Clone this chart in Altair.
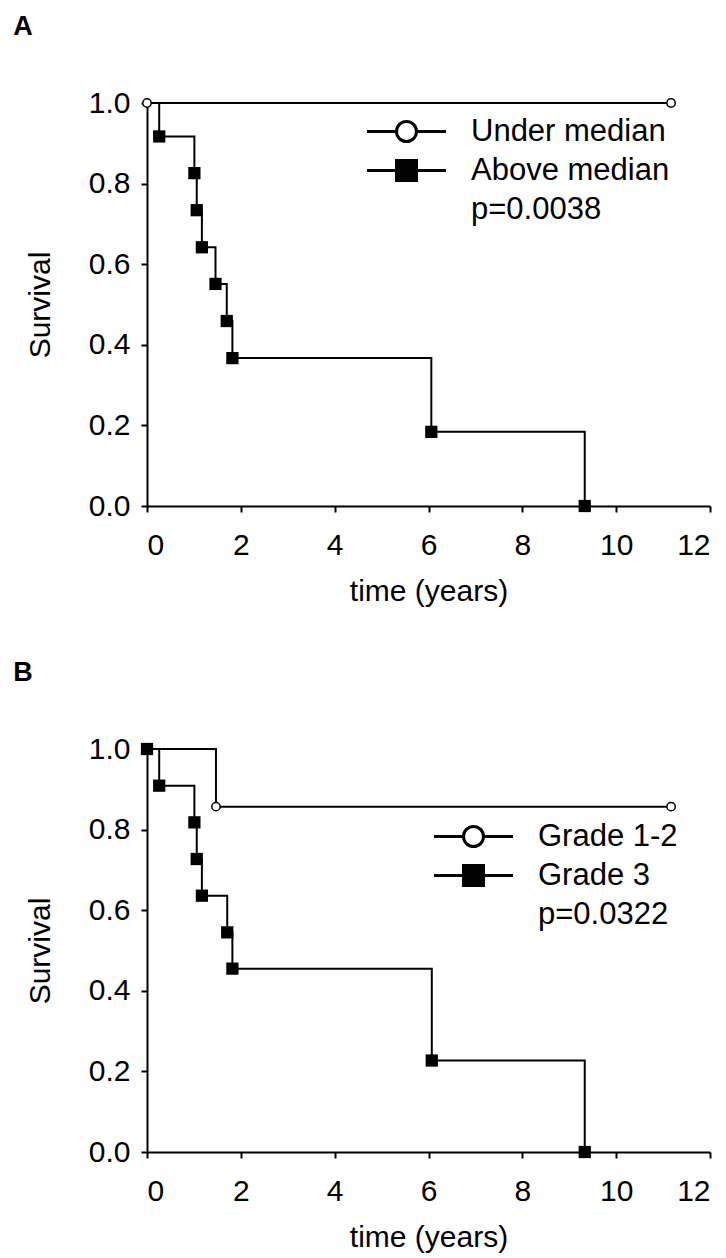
import altair as alt
import pandas as pd

FONT = "Liberation Sans"

# ---------------- data ----------------
# Panel A
a_under_t = [0.0, 11.17]
a_under_s = [1.0, 1.0]
a_under_mark = [True, True]
a_above_t = [0.0, 0.26, 1.01, 1.06, 1.17, 1.46, 1.70, 1.82, 6.06, 9.33]
a_above_s = [1.0, 0.917, 0.826, 0.734, 0.642, 0.551, 0.459, 0.367, 0.184, 0.0]
a_above_mark = [False, True, True, True, True, True, True, True, True, True]
a_labels = ["Under median", "Above median", "p=0.0038"]

# Panel B
b_g12_t = [0.0, 1.47, 11.17]
b_g12_s = [1.0, 0.857, 0.857]
b_g12_mark = [False, True, True]
b_g3_t = [0.0, 0.26, 1.01, 1.06, 1.17, 1.71, 1.82, 6.07, 9.33]
b_g3_s = [1.0, 0.909, 0.818, 0.727, 0.636, 0.545, 0.455, 0.227, 0.0]
b_g3_mark = [True, True, True, True, True, True, True, True, True]
b_labels = ["Grade 1-2", "Grade 3", "p=0.0322"]

x_ticks = [0, 2, 4, 6, 8, 10, 12]
y_ticks = [0.0, 0.2, 0.4, 0.6, 0.8, 1.0]

# ---------------- legend symbols (line through a marker) ----------------
# symbol size 400 -> unit = 10 px
CIRC = ("M-3.95,0L-1.02,0M1.02,0L3.95,0"
        "M1,0A1,1,0,1,1,-1,0A1,1,0,1,1,1,0Z")
SQ = ("M-3.95,0L-1,0M1,0L3.95,0"
      "M-1,-1L1,-1L1,1L-1,1Z")
EMPTY = "M0,0"


def panel(letter, t1, s1, m1, t2, s2, m2, labels, lx, ly):
    d1 = pd.DataFrame({"t": t1, "s": s1, "m": m1})
    d2 = pd.DataFrame({"t": t2, "s": s2, "m": m2})
    xaxis = alt.Axis(values=x_ticks, format="d", title="time (years)",
                     tickSize=6, labelPadding=18, titlePadding=16)
    yaxis = alt.Axis(values=y_ticks, format=".1f", title="Survival",
                     tickSize=6, labelPadding=11, titlePadding=33)
    x = alt.X("t:Q", scale=alt.Scale(domain=[0, 12], nice=False), axis=xaxis)
    y = alt.Y("s:Q", scale=alt.Scale(domain=[0, 1], nice=False), axis=yaxis)

    line1 = alt.Chart(d1).mark_line(interpolate="step-after", color="black",
                                    strokeWidth=2).encode(x=x, y=y)
    line2 = alt.Chart(d2).mark_line(interpolate="step-after", color="black",
                                    strokeWidth=2).encode(x=x, y=y)
    pts1 = (alt.Chart(d1).transform_filter("datum.m")
            .mark_point(shape="circle", filled=True, fill="white",
                        stroke="black", strokeWidth=1.5, size=70, opacity=1)
            .encode(x=x, y=y))
    pts2 = (alt.Chart(d2).transform_filter("datum.m")
            .mark_point(shape="square", filled=True, color="black",
                        size=150, opacity=1)
            .encode(x=x, y=y))

    leg = alt.Legend(title=None, orient="none", legendX=lx, legendY=ly,
                     direction="vertical", symbolSize=400,
                     symbolStrokeWidth=3,
                     symbolOpacity=1, labelFont=FONT, labelFontSize=31,
                     labelColor="black", labelLimit=500, labelOffset=49,
                     rowPadding=6, padding=0)
    leg_df = pd.DataFrame({"lab": labels})
    legend_layer = (alt.Chart(leg_df).transform_filter("false")
                    .mark_point(filled=False, strokeWidth=3, opacity=1)
                    .encode(shape=alt.Shape("lab:N", legend=leg,
                                            scale=alt.Scale(domain=labels,
                                                            range=[CIRC, SQ, EMPTY])),
                            fill=alt.Fill("lab:N", legend=leg,
                                          scale=alt.Scale(domain=labels,
                                                          range=["white", "black", "white"])),
                            stroke=alt.Stroke("lab:N", legend=leg,
                                              scale=alt.Scale(domain=labels,
                                                              range=["black", "black", "black"]))))
    return alt.layer(line1, line2, pts1, pts2, legend_layer).properties(
        width=563, height=403,
        title=alt.Title(letter, anchor="start", fontSize=27, fontWeight="bold",
                        font=FONT, color="black", frame="bounds", dx=-12,
                        offset=47))


chart_a = panel("A", a_under_t, a_under_s, a_under_mark,
                a_above_t, a_above_s, a_above_mark, a_labels, 244, 13)
chart_b = panel("B", b_g12_t, b_g12_s, b_g12_mark,
                b_g3_t, b_g3_s, b_g3_mark, b_labels, 311, 72)

chart = (alt.vconcat(chart_a, chart_b, spacing=53, background="white")
         .resolve_scale(shape="independent", fill="independent",
                        stroke="independent")
         .configure_view(stroke=None)
         .configure_axis(grid=False, domainColor="black", domainWidth=2,
                         tickColor="black", tickWidth=2,
                         labelFont=FONT, labelFontSize=30, labelColor="black",
                         titleFont=FONT, titleFontSize=30, titleColor="black",
                         titleFontWeight="normal"))

chart.save("out.html", embed_options={"renderer": "svg", "actions": False})
